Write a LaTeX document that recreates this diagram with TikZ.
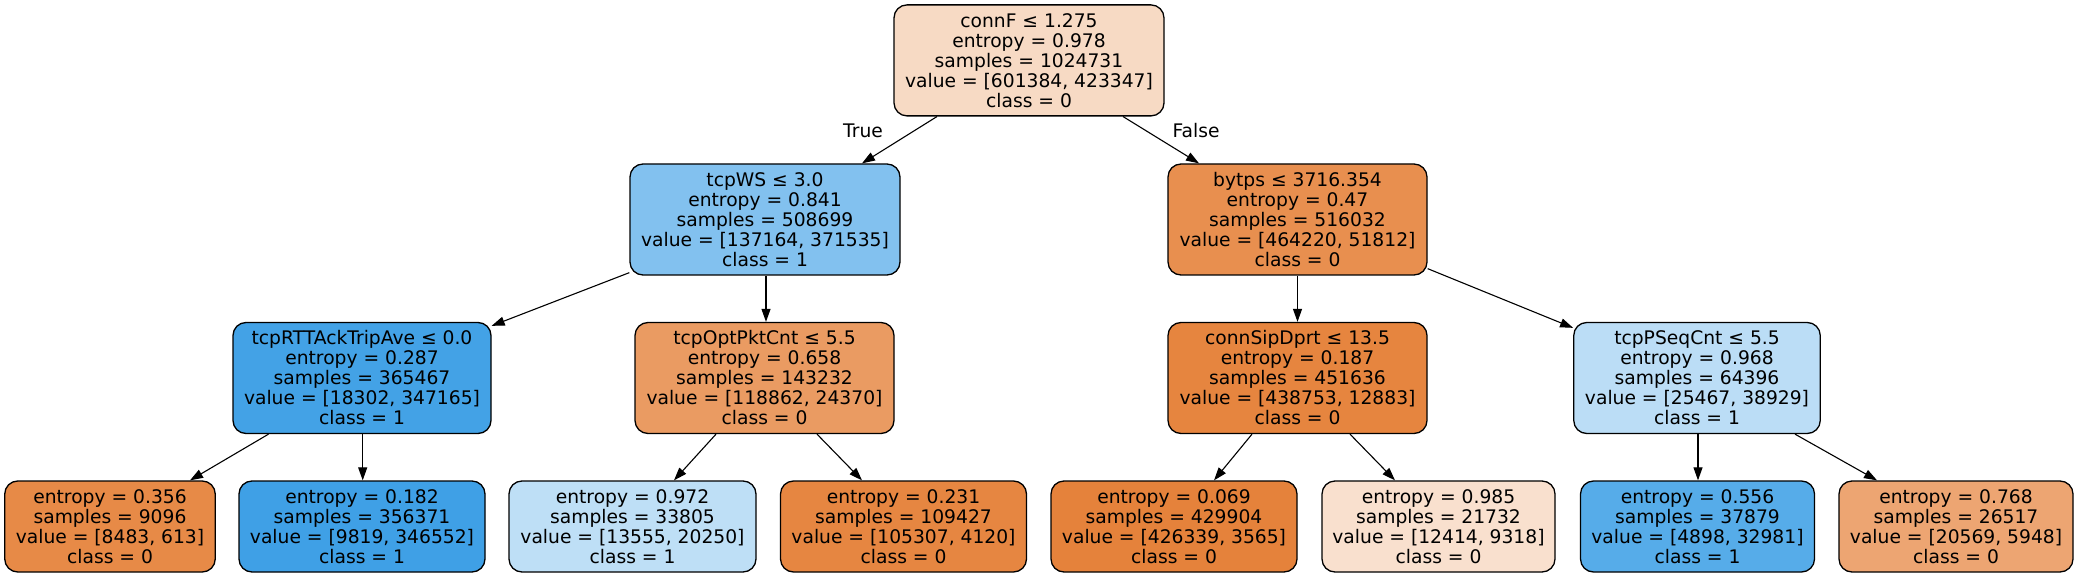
\documentclass[tikz,border=0pt]{standalone}
\usepackage{fontspec}
\setmainfont{DejaVu Sans}
\usetikzlibrary{arrows.meta,calc}
\definecolor{cRoot}{RGB}{247,218,196}
\definecolor{cWS}{RGB}{130,193,239}
\definecolor{cBy}{RGB}{232,143,79}
\definecolor{cRTT}{RGB}{67,162,230}
\definecolor{cOpt}{RGB}{234,155,98}
\definecolor{cSip}{RGB}{230,133,63}
\definecolor{cPSeq}{RGB}{187,221,246}
\definecolor{cLa}{RGB}{231,138,71}
\definecolor{cLb}{RGB}{63,160,230}
\definecolor{cLc}{RGB}{190,223,246}
\definecolor{cLd}{RGB}{230,134,65}
\definecolor{cLe}{RGB}{229,130,59}
\definecolor{cLf}{RGB}{249,224,206}
\definecolor{cLg}{RGB}{86,172,233}
\definecolor{cLh}{RGB}{237,165,114}
\tikzset{
  tnode/.style={draw=black, line width=1.3pt, rounded corners=13pt, align=center,
    inner sep=0pt, font=\fontsize{18.7pt}{20pt}\selectfont},
  inner5/.style={tnode, minimum height=111pt},
  leaf4/.style={tnode, minimum height=91pt},
  edge/.style={line width=1.1pt, -{Triangle[length=13pt,width=9pt]}},
  elabel/.style={font=\fontsize{18.7pt}{20pt}\selectfont, inner sep=0pt}
}
\begin{document}
\begin{tikzpicture}[x=1pt,y=-1pt]
\useasboundingbox (0,0) rectangle (2079,577);
% level 0
\node[inner5, fill=cRoot, minimum width=270pt] (root) at (1029,60.4)
  {connF ≤ 1.275\\entropy = 0.978\\samples = 1024731\\value = [601384, 423347]\\class = 0};
% level 1
\node[inner5, fill=cWS, minimum width=270pt] (ws) at (765,219.5)
  {tcpWS ≤ 3.0\\entropy = 0.841\\samples = 508699\\value = [137164, 371535]\\class = 1};
\node[inner5, fill=cBy, minimum width=259pt] (by) at (1297.5,219.5)
  {bytps ≤ 3716.354\\entropy = 0.47\\samples = 516032\\value = [464220, 51812]\\class = 0};
% level 2
\node[inner5, fill=cRTT, minimum width=258pt] (rtt) at (362,378)
  {tcpRTTAckTripAve ≤ 0.0\\entropy = 0.287\\samples = 365467\\value = [18302, 347165]\\class = 1};
\node[inner5, fill=cOpt, minimum width=259pt] (opt) at (764.5,378)
  {tcpOptPktCnt ≤ 5.5\\entropy = 0.658\\samples = 143232\\value = [118862, 24370]\\class = 0};
\node[inner5, fill=cSip, minimum width=259pt] (sip) at (1297.5,378)
  {connSipDprt ≤ 13.5\\entropy = 0.187\\samples = 451636\\value = [438753, 12883]\\class = 0};
\node[inner5, fill=cPSeq, minimum width=246.5pt] (pseq) at (1697,378)
  {tcpPSeqCnt ≤ 5.5\\entropy = 0.968\\samples = 64396\\value = [25467, 38929]\\class = 1};
% leaves
\node[leaf4, fill=cLa, minimum width=210.5pt] (la) at (110,526.5)
  {entropy = 0.356\\samples = 9096\\value = [8483, 613]\\class = 0};
\node[leaf4, fill=cLb, minimum width=246pt] (lb) at (362,526.5)
  {entropy = 0.182\\samples = 356371\\value = [9819, 346552]\\class = 1};
\node[leaf4, fill=cLc, minimum width=247pt] (lc) at (632.5,526.5)
  {entropy = 0.972\\samples = 33805\\value = [13555, 20250]\\class = 1};
\node[leaf4, fill=cLd, minimum width=246pt] (ld) at (903.5,526.5)
  {entropy = 0.231\\samples = 109427\\value = [105307, 4120]\\class = 0};
\node[leaf4, fill=cLe, minimum width=246pt] (le) at (1174,526.5)
  {entropy = 0.069\\samples = 429904\\value = [426339, 3565]\\class = 0};
\node[leaf4, fill=cLf, minimum width=233pt] (lf) at (1438.5,526.5)
  {entropy = 0.985\\samples = 21732\\value = [12414, 9318]\\class = 0};
\node[leaf4, fill=cLg, minimum width=234pt] (lg) at (1697.5,526.5)
  {entropy = 0.556\\samples = 37879\\value = [4898, 32981]\\class = 1};
\node[leaf4, fill=cLh, minimum width=234pt] (lh) at (1956,526.5)
  {entropy = 0.768\\samples = 26517\\value = [20569, 5948]\\class = 0};
% edges
\draw[edge] ($(root.south)+(-92,0)$) -- ($(ws.north)+(97,0)$);
\draw[edge] ($(root.south)+(94,0)$) -- ($(by.north)+(-98.5,0)$);
\draw[edge] ($(ws.south west)+(0,-3)$) -- ($(rtt.north east)+(0,4)$);
\draw[edge] ($(ws.south)+(1,0)$) -- ($(opt.north)+(1.5,0)$);
\draw[edge] (by.south) -- (sip.north);
\draw[edge] ($(by.south east)+(0,-7)$) -- ($(pseq.north west)+(0,6)$);
\draw[edge] ($(rtt.south)+(-93.5,0)$) -- ($(la.north)+(80,0)$);
\draw[edge] ($(rtt.south)+(0.7,0)$) -- ($(lb.north)+(0.7,0)$);
\draw[edge] ($(opt.south)+(-48.5,0)$) -- ($(lc.north)+(41.5,0)$);
\draw[edge] ($(opt.south)+(52.5,0)$) -- ($(ld.north)+(-41.5,0)$);
\draw[edge] ($(sip.south)+(-45.5,0)$) -- ($(le.north)+(40,0)$);
\draw[edge] ($(sip.south)+(52.5,0)$) -- ($(lf.north)+(-43.5,0)$);
\draw[edge] ($(pseq.south)+(1,0)$) -- ($(lg.north)+(0.5,0)$);
\draw[edge] ($(pseq.south)+(98,0)$) -- ($(lh.north)+(-79,0)$);
% edge labels
\node[elabel] (tl) at (863,131) {True};
\node[elabel] (fl) at (1196,131) {False};
\end{tikzpicture}
\end{document}
